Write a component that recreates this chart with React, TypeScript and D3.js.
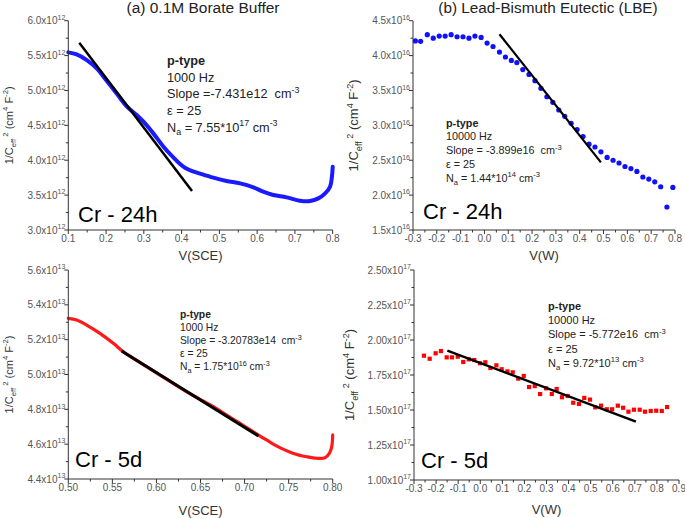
import React from 'react';
import * as d3 from 'd3';

// ---------- Panel (a) top: Cr - 24h in 0.1M borate buffer (x10^12) ----------
const p1V = [0.100, 0.122, 0.149, 0.175, 0.200, 0.228, 0.254, 0.281, 0.299, 0.325, 0.352, 0.378, 0.395, 0.410, 0.428, 0.449, 0.484, 0.519, 0.555, 0.590, 0.616, 0.643, 0.678, 0.713, 0.740, 0.762, 0.780, 0.793, 0.798, 0.800];
const p1C = [5.546, 5.517, 5.436, 5.317, 5.150, 4.958, 4.777, 4.648, 4.552, 4.385, 4.194, 4.040, 3.950, 3.890, 3.845, 3.808, 3.750, 3.702, 3.668, 3.611, 3.549, 3.501, 3.468, 3.420, 3.415, 3.453, 3.525, 3.621, 3.764, 3.907];
const p1FitV = [0.129, 0.4275];
const p1FitC = [5.685, 3.558];
const p1XTicks = [0.1, 0.2, 0.3, 0.4, 0.5, 0.6, 0.7, 0.8];
const p1YTicks = [3.0, 3.5, 4.0, 4.5, 5.0, 5.5, 6.0];

// ---------- Panel (b) top: Cr - 24h in LBE (x10^16) ----------
const p2V = [-0.29, -0.268, -0.24, -0.215, -0.19, -0.165, -0.14, -0.115, -0.09, -0.065, -0.04, -0.014, 0.011, 0.036, 0.063, 0.088, 0.113, 0.136, 0.161, 0.187, 0.212, 0.237, 0.262, 0.287, 0.312, 0.337, 0.364, 0.389, 0.414, 0.439, 0.464, 0.489, 0.515, 0.54, 0.565, 0.59, 0.615, 0.64, 0.665, 0.69, 0.715, 0.74, 0.766, 0.791];
const p2C = [4.21, 4.205, 4.30, 4.25, 4.28, 4.28, 4.30, 4.27, 4.27, 4.25, 4.28, 4.26, 4.18, 4.13, 4.05, 3.98, 3.93, 3.90, 3.80, 3.73, 3.64, 3.53, 3.41, 3.33, 3.22, 3.13, 3.03, 2.94, 2.84, 2.73, 2.69, 2.62, 2.54, 2.50, 2.46, 2.41, 2.38, 2.34, 2.26, 2.23, 2.19, 2.12, 1.83, 2.11];
const p2FitV = [0.063, 0.489];
const p2FitC = [4.305, 2.47];
const p2XTicks = [-0.3, -0.2, -0.1, 0.0, 0.1, 0.2, 0.3, 0.4, 0.5, 0.6, 0.7, 0.8];
const p2YTicks = [1.5, 2.0, 2.5, 3.0, 3.5, 4.0, 4.5];

// ---------- Panel (a) bottom: Cr - 5d in borate buffer (x10^13) ----------
const p3V = [0.500, 0.5095, 0.5208, 0.536, 0.551, 0.5624, 0.5738, 0.5889, 0.604, 0.619, 0.634, 0.649, 0.6646, 0.6797, 0.6949, 0.710, 0.725, 0.740, 0.7554, 0.7705, 0.7819, 0.7913, 0.7962, 0.7989, 0.800];
const p3C = [5.322, 5.313, 5.284, 5.236, 5.179, 5.131, 5.093, 5.045, 4.997, 4.949, 4.901, 4.859, 4.815, 4.767, 4.719, 4.671, 4.624, 4.580, 4.547, 4.528, 4.519, 4.522, 4.547, 4.586, 4.653];
const p3FitV = [0.5605, 0.7157];
const p3FitC = [5.135, 4.647];
const p3XTicks = [0.50, 0.55, 0.60, 0.65, 0.70, 0.75, 0.80];
const p3YTicks = [4.4, 4.6, 4.8, 5.0, 5.2, 5.4, 5.6];

// ---------- Panel (b) bottom: Cr - 5d in LBE (x10^17) ----------
const p4V = [-0.255, -0.229, -0.202, -0.178, -0.152, -0.128, -0.102, -0.077, -0.052, -0.027, -0.001, 0.023, 0.046, 0.073, 0.097, 0.123, 0.147, 0.172, 0.197, 0.221, 0.247, 0.271, 0.298, 0.324, 0.346, 0.370, 0.396, 0.421, 0.447, 0.471, 0.497, 0.521, 0.547, 0.573, 0.597, 0.623, 0.647, 0.671, 0.696, 0.722, 0.746, 0.772, 0.797, 0.822, 0.846];
const p4C = [1.888, 1.866, 1.905, 1.921, 1.876, 1.876, 1.881, 1.843, 1.862, 1.857, 1.834, 1.841, 1.800, 1.819, 1.791, 1.776, 1.769, 1.724, 1.743, 1.664, 1.671, 1.614, 1.655, 1.614, 1.650, 1.591, 1.600, 1.552, 1.543, 1.586, 1.574, 1.519, 1.531, 1.505, 1.505, 1.531, 1.516, 1.488, 1.502, 1.502, 1.488, 1.493, 1.495, 1.493, 1.521];
const p4FitV = [-0.149, 0.705];
const p4FitC = [1.924, 1.417];
const p4XTicks = [-0.3, -0.2, -0.1, 0.0, 0.1, 0.2, 0.3, 0.4, 0.5, 0.6, 0.7, 0.8, 0.9];
const p4YTicks = [1.00, 1.25, 1.50, 1.75, 2.00, 2.25, 2.50];

type Seg = { t: string; s?: 'sup' | 'sub'; b?: boolean };

const FONT = "Arial, 'Liberation Sans', Helvetica, sans-serif";

function Rich({ segs, fs }: { segs: Seg[]; fs: number }) {
  let cur = 0;
  return (
    <>
      {segs.map((g, i) => {
        const target = g.s === 'sup' ? -fs * 0.42 : g.s === 'sub' ? fs * 0.28 : 0;
        const dy = target - cur;
        cur = target;
        return (
          <tspan key={i} dy={dy} fontSize={g.s ? fs * 0.7 : fs} fontWeight={g.b ? 'bold' : 'normal'}>
            {g.t}
          </tspan>
        );
      })}
    </>
  );
}

const yLabelSegs: Seg[] = [
  { t: '1/C' }, { t: 'eff', s: 'sub' }, { t: ' 2', s: 'sup' }, { t: ' (cm' }, { t: '4', s: 'sup' }, { t: ' F' }, { t: '-2', s: 'sup' }, { t: ')' },
];

function notes(freq: string, slope: string, na: string, exp: string): Seg[][] {
  return [
    [{ t: 'p-type', b: true }],
    [{ t: freq }],
    [{ t: slope }, { t: '-3', s: 'sup' }],
    [{ t: 'ε = 25' }],
    [{ t: 'N' }, { t: 'a', s: 'sub' }, { t: ' = ' + na }, { t: exp, s: 'sup' }, { t: ' cm' }, { t: '-3', s: 'sup' }],
  ];
}

interface PanelProps {
  x0: number; x1: number; yTop: number; yBot: number;
  xDom: [number, number]; yDom: [number, number];
  xTicks: number[]; yTicks: number[]; xDec: number; yDec: number; exp: string;
  v: number[]; c: number[]; fitV: number[]; fitC: number[];
  mode: 'curve' | 'dots' | 'squares'; color: string; strokeW?: number; fitW: number;
  xLabel: string; xLabelY: number; yLabelX: number; yLabelFs: number;
  tag: string; tagX: number; tagY: number;
  note: Seg[][]; noteX: number; noteY: number; noteDy: number; noteFs: number;
}

function Panel(p: PanelProps) {
  const xs = d3.scaleLinear().domain(p.xDom).range([p.x0, p.x1]);
  const ys = d3.scaleLinear().domain(p.yDom).range([p.yBot, p.yTop]);
  const pts = p.v.map((v, i) => [v, p.c[i]] as [number, number]);
  const line = d3.line<[number, number]>().x(d => xs(d[0])).y(d => ys(d[1])).curve(d3.curveCatmullRom.alpha(0.5));
  const xStep = p.xTicks[1] - p.xTicks[0];
  const yStep = p.yTicks[1] - p.yTicks[0];
  const xMinor = p.xTicks.slice(0, -1).map(t => t + xStep / 2);
  const yMinor = p.yTicks.slice(0, -1).map(t => t + yStep / 2);
  const axisCol = '#333';
  const tickCol = '#555';
  const cy = (p.yTop + p.yBot) / 2;
  return (
    <g fontFamily={FONT}>
      {p.mode === 'curve' && (
        <path d={line(pts) || ''} fill="none" stroke={p.color} strokeWidth={p.strokeW} strokeLinejoin="round" strokeLinecap="round" />
      )}
      {p.mode === 'dots' && pts.map((d, i) => <circle key={i} cx={xs(d[0])} cy={ys(d[1])} r={2.6} fill={p.color} />)}
      {p.mode === 'squares' && pts.map((d, i) => <rect key={i} x={xs(d[0]) - 2.1} y={ys(d[1]) - 2.1} width={4.2} height={4.2} fill={p.color} />)}
      <line x1={xs(p.fitV[0])} y1={ys(p.fitC[0])} x2={xs(p.fitV[1])} y2={ys(p.fitC[1])} stroke="#000" strokeWidth={p.fitW} />
      <line x1={p.x0} y1={p.yTop} x2={p.x0} y2={p.yBot} stroke={axisCol} strokeWidth={1} />
      <line x1={p.x0} y1={p.yBot} x2={p.x1} y2={p.yBot} stroke={axisCol} strokeWidth={1} />
      {p.yTicks.map((t, i) => (
        <g key={'yt' + i}>
          <line x1={p.x0 - 4} x2={p.x0} y1={ys(t)} y2={ys(t)} stroke={axisCol} />
          <text x={p.x0 - 3} y={ys(t) + 3.5} textAnchor="end" fill={tickCol} fontSize={10}>
            <Rich segs={[{ t: t.toFixed(p.yDec) + 'x10' }, { t: p.exp, s: 'sup' }]} fs={10} />
          </text>
        </g>
      ))}
      {yMinor.map((t, i) => <line key={'ym' + i} x1={p.x0 - 2.5} x2={p.x0} y1={ys(t)} y2={ys(t)} stroke={axisCol} />)}
      {p.xTicks.map((t, i) => (
        <g key={'xt' + i}>
          <line x1={xs(t)} x2={xs(t)} y1={p.yBot} y2={p.yBot + 4} stroke={axisCol} />
          <text x={xs(t)} y={p.yBot + 12} textAnchor="middle" fill={tickCol} fontSize={10}>
            {(Math.abs(t) < 1e-9 ? 0 : t).toFixed(p.xDec)}
          </text>
        </g>
      ))}
      {xMinor.map((t, i) => <line key={'xm' + i} x1={xs(t)} x2={xs(t)} y1={p.yBot} y2={p.yBot + 2.5} stroke={axisCol} />)}
      <text x={(p.x0 + p.x1) / 2} y={p.xLabelY} textAnchor="middle" fontSize={13} fill="#333">{p.xLabel}</text>
      <text transform={`translate(${p.yLabelX},${cy}) rotate(-90)`} textAnchor="middle" fill="#333" style={{ whiteSpace: 'pre' }}>
        <Rich segs={yLabelSegs} fs={p.yLabelFs} />
      </text>
      <text x={p.tagX} y={p.tagY} fontSize={22} fill="#000">{p.tag}</text>
      {p.note.map((segs, i) => (
        <text key={'n' + i} x={p.noteX} y={p.noteY + i * p.noteDy} fill="#222" style={{ whiteSpace: 'pre' }}>
          <Rich segs={segs} fs={p.noteFs} />
        </text>
      ))}
    </g>
  );
}

export default function App() {
  return (
    <svg width={685} height={518} viewBox="0 0 685 518" style={{ position: 'absolute', left: 0, top: 0, background: '#fff' }}>
      <rect x={0} y={0} width={685} height={518} fill="#fff" />
      <text x={203} y={13} textAnchor="middle" fontFamily={FONT} fontSize={15.5} fill="#222">(a) 0.1M Borate Buffer</text>
      <text x={548} y={13} textAnchor="middle" fontFamily={FONT} fontSize={15.3} fill="#222">(b) Lead-Bismuth Eutectic (LBE)</text>
      <Panel
        x0={68.3} x1={332.7} yTop={20.7} yBot={230} xDom={[0.1, 0.8]} yDom={[3.0, 6.0]}
        xTicks={p1XTicks} yTicks={p1YTicks} xDec={1} yDec={1} exp="12"
        v={p1V} c={p1C} fitV={p1FitV} fitC={p1FitC} mode="curve" color="#1a1aff" strokeW={4} fitW={2.5}
        xLabel="V(SCE)" xLabelY={260} yLabelX={13} yLabelFs={11}
        tag="Cr - 24h" tagX={78} tagY={222}
        note={notes('1000 Hz', 'Slope =-7.431e12  cm', '7.55*10', '17')} noteX={167} noteY={65} noteDy={16.7} noteFs={12.7}
      />
      <Panel
        x0={413} x1={675} yTop={20.7} yBot={230} xDom={[-0.3, 0.8]} yDom={[1.5, 4.5]}
        xTicks={p2XTicks} yTicks={p2YTicks} xDec={1} yDec={1} exp="16"
        v={p2V} c={p2C} fitV={p2FitV} fitC={p2FitC} mode="dots" color="#1010ff" fitW={2.2}
        xLabel="V(W)" xLabelY={260} yLabelX={358} yLabelFs={13}
        tag="Cr - 24h" tagX={423} tagY={219}
        note={notes('10000 Hz', 'Slope = -3.899e16  cm', '1.44*10', '14')} noteX={446} noteY={126.7} noteDy={13.7} noteFs={10.8}
      />
      <Panel
        x0={68.3} x1={332.7} yTop={270} yBot={479} xDom={[0.5, 0.8]} yDom={[4.4, 5.6]}
        xTicks={p3XTicks} yTicks={p3YTicks} xDec={2} yDec={1} exp="13"
        v={p3V} c={p3C} fitV={p3FitV} fitC={p3FitC} mode="curve" color="#ff1a1a" strokeW={3.2} fitW={3}
        xLabel="V(SCE)" xLabelY={515} yLabelX={13} yLabelFs={11}
        tag="Cr - 5d" tagX={75} tagY={467}
        note={notes('1000 Hz', 'Slope = -3.20783e14  cm', '1.75*10', '16')} noteX={180} noteY={318.3} noteDy={12.9} noteFs={10.3}
      />
      <Panel
        x0={414} x1={679} yTop={270} yBot={480} xDom={[-0.3, 0.9]} yDom={[1.0, 2.5]}
        xTicks={p4XTicks} yTicks={p4YTicks} xDec={1} yDec={2} exp="17"
        v={p4V} c={p4C} fitV={p4FitV} fitC={p4FitC} mode="squares" color="#ff0000" fitW={2.5}
        xLabel="V(W)" xLabelY={514} yLabelX={354} yLabelFs={13}
        tag="Cr - 5d" tagX={421} tagY={468}
        note={notes('10000 Hz', 'Slope = -5.772e16  cm', '9.72*10', '13')} noteX={548} noteY={309.5} noteDy={14.4} noteFs={11}
      />
    </svg>
  );
}
